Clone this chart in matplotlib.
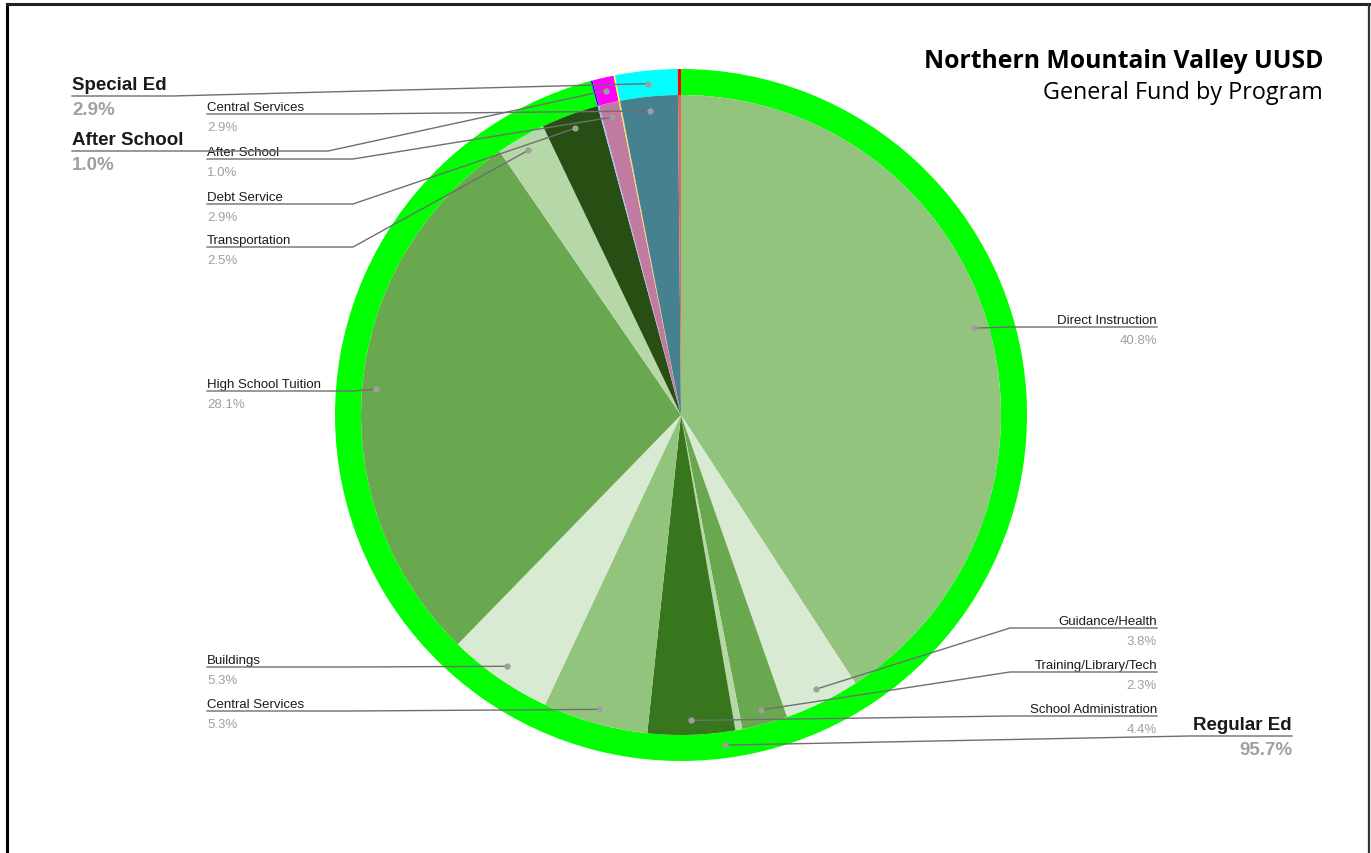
import numpy as np
import matplotlib.pyplot as plt

W, H = 1371, 854

# inner ring: programs, clockwise from 12 o'clock
inner_names = ["Direct Instruction", "Guidance/Health", "Training/Library/Tech", "",
               "School Administration", "Central Services", "Buildings",
               "High School Tuition", "Transportation", "Debt Service", "",
               "After School", "", "Central Services", ""]
inner_values = [40.8, 3.8, 2.3, 0.35, 4.4, 5.3, 5.3, 28.1, 2.5, 2.9, 0.07, 1.0, 0.07, 2.9, 0.15]
inner_colors = ["#93c47d", "#d9ead3", "#6aa84f", "#b6d7a8", "#38761d", "#93c47d",
                "#d9ead3", "#6aa84f", "#b6d7a8", "#274e13", "#a4c2f4", "#c27ba0",
                "#ffd966", "#45818e", "#e06666"]

# outer ring: funds
outer_names = ["Regular Ed", "", "After School", "", "Special Ed", ""]
outer_values = [95.7, 0.07, 1.0, 0.07, 2.9, 0.15]
outer_colors = ["#00ff00", "#0000ff", "#ff00ff", "#ffff00", "#00ffff", "#ff0000"]

cx, cy = 681, 416
R_out, R_in = 346, 320
LINE = "#6f6f6f"
DOT = "#9e9e9e"
GRAY = "#a0a0a0"
NARROW = ["Liberation Sans Narrow", "Liberation Sans", "DejaVu Sans"]

fig = plt.figure(figsize=(W / 100, H / 100), dpi=100)
ax = fig.add_axes([0, 0, 1, 1])

# y axis runs downward, so counterclock=True draws clockwise on screen
wo, _ = ax.pie(outer_values, colors=outer_colors, radius=R_out, center=(cx, cy),
               startangle=-90, counterclock=True,
               wedgeprops=dict(width=R_out - R_in, linewidth=0))
wi, _ = ax.pie(inner_values, colors=inner_colors, radius=R_in, center=(cx, cy),
               startangle=-90, counterclock=True, wedgeprops=dict(linewidth=0))
ax.set_xlim(0, W)
ax.set_ylim(H, 0)
ax.set_aspect("equal")
ax.axis("off")


def anchor(w, r):
    a = np.deg2rad((w.theta1 + w.theta2) / 2)
    return cx + r * np.cos(a), cy + r * np.sin(a)


def label(dot, line_y, elbow_x, end_x, text_x, ha, name, pct, big=False):
    ax.plot([dot[0], elbow_x, end_x], [dot[1], line_y, line_y], color=LINE, lw=1.0, zorder=5)
    ax.plot(dot[0], dot[1], "o", ms=4.5, color=DOT, mec="none", zorder=6)
    if big:
        ax.text(text_x, line_y - 7, name, ha=ha, va="baseline", fontsize=13.5,
                fontweight="bold", family=NARROW, color="#1a1a1a")
        ax.text(text_x, line_y + 5, pct, ha=ha, va="top", fontsize=13.5,
                fontweight="bold", family=NARROW, color=GRAY)
    else:
        ax.text(text_x, line_y - 4, name, ha=ha, va="baseline", fontsize=9.5,
                family=NARROW, color="#1a1a1a")
        ax.text(text_x, line_y + 7, pct, ha=ha, va="top", fontsize=9.5,
                family=NARROW, color=GRAY)


r_dot_in = 0.955 * R_in
r_dot_out = (R_out + R_in) / 2

# right side program labels: (slice, line y)
for i, ly in [(0, 328), (1, 629), (2, 673), (4, 717)]:
    label(anchor(wi[i], r_dot_in), ly, 1010, 1157, 1157, "right",
          inner_names[i], f"{inner_values[i]:.1f}%")

# left side program labels
for i, ly in [(13, 115), (11, 160), (9, 205), (8, 248), (7, 392), (6, 668), (5, 712)]:
    label(anchor(wi[i], r_dot_in), ly, 353, 207, 207, "left",
          inner_names[i], f"{inner_values[i]:.1f}%")

# fund labels
label(anchor(wo[0], r_dot_out), 737, 1190, 1292, 1292, "right",
      outer_names[0], f"{outer_values[0]:.1f}%", big=True)
label(anchor(wo[4], r_dot_out), 97, 172, 72, 72, "left",
      outer_names[4], f"{outer_values[4]:.1f}%", big=True)
label(anchor(wo[2], r_dot_out), 152, 328, 72, 72, "left",
      outer_names[2], f"{outer_values[2]:.1f}%", big=True)

# title
ax.text(1323, 68, "Northern Mountain Valley UUSD", ha="right", va="baseline",
        fontsize=17.8, fontweight="bold", family="Open Sans", color="black")
ax.text(1323, 99, "General Fund by Program", ha="right", va="baseline",
        fontsize=16.8, family="Open Sans", color="black")

# frame
ax.plot([7, 7], [H, 5], color="black", lw=2.2, solid_capstyle="projecting")
ax.plot([7, 1369], [5, 5], color="#222222", lw=2.2)
ax.plot([1369, 1369], [5, H], color="#333333", lw=1.6)

fig.savefig("out.png", dpi=100)
